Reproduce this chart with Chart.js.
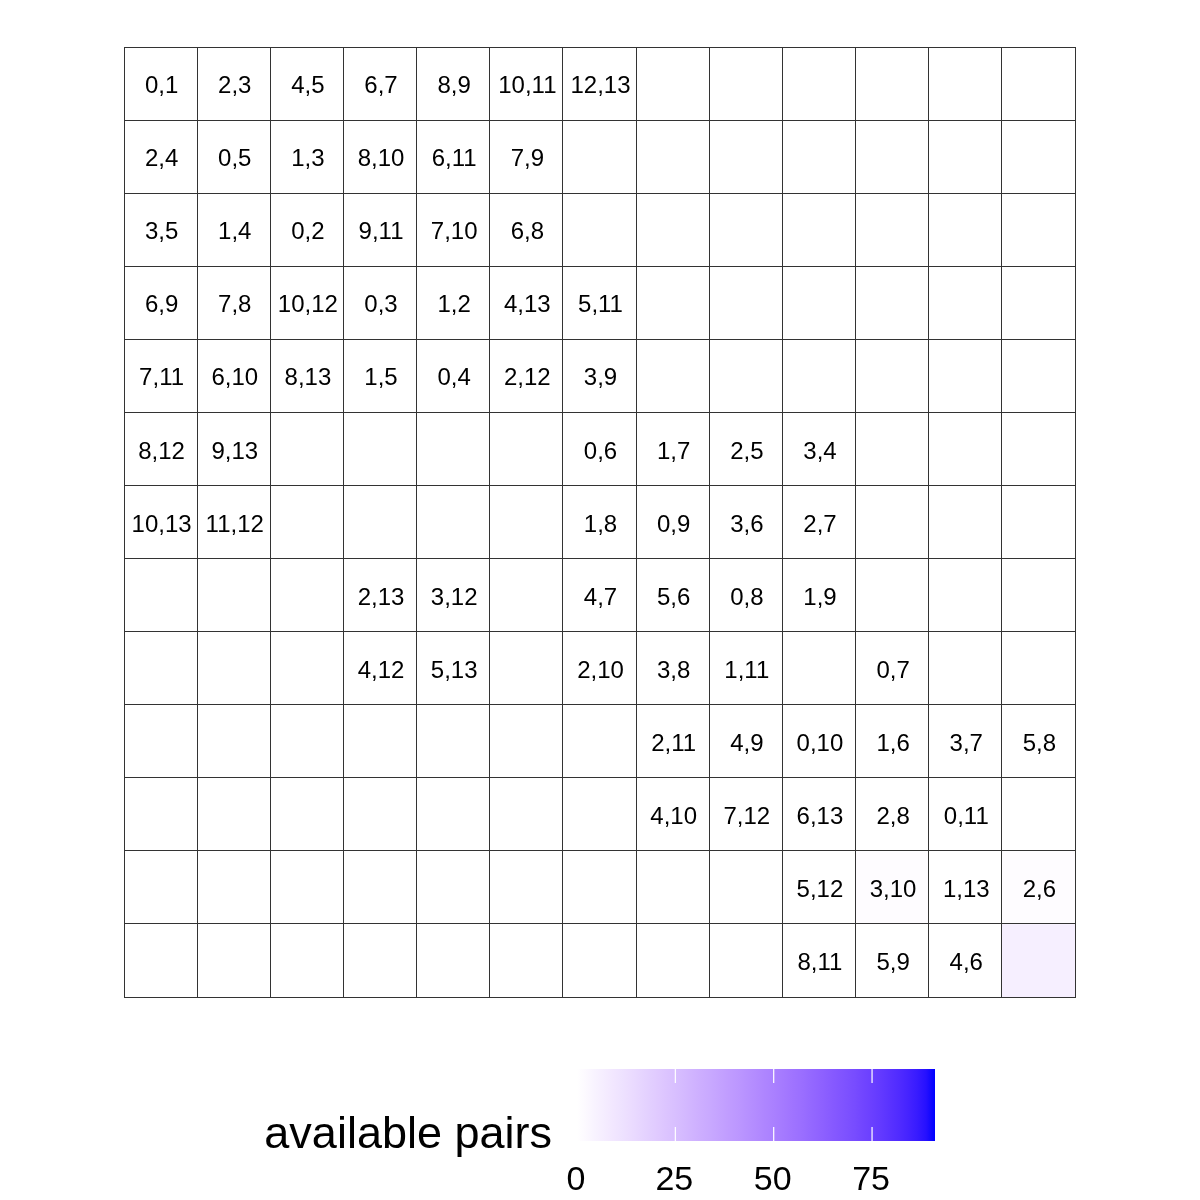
<!DOCTYPE html>
<html>
<head>
<meta charset="utf-8">
<script src="https://cdn.jsdelivr.net/npm/chart.js@4"></script>
<style>
html,body{margin:0;padding:0;background:#fff;}
#wrap{width:1200px;height:1200px;}
</style>
</head>
<body>
<div id="wrap"><canvas id="c" width="1200" height="1200"></canvas></div>
<script>
// ---- data ----
const columns = ['1','2','3','4','5','6','7','8','9','10','11','12','13'];
const rowLabels = [
  ['0,1','2,3','4,5','6,7','8,9','10,11','12,13','','','','','',''],
  ['2,4','0,5','1,3','8,10','6,11','7,9','','','','','','',''],
  ['3,5','1,4','0,2','9,11','7,10','6,8','','','','','','',''],
  ['6,9','7,8','10,12','0,3','1,2','4,13','5,11','','','','','',''],
  ['7,11','6,10','8,13','1,5','0,4','2,12','3,9','','','','','',''],
  ['8,12','9,13','','','','','0,6','1,7','2,5','3,4','','',''],
  ['10,13','11,12','','','','','1,8','0,9','3,6','2,7','','',''],
  ['','','','2,13','3,12','','4,7','5,6','0,8','1,9','','',''],
  ['','','','4,12','5,13','','2,10','3,8','1,11','','0,7','',''],
  ['','','','','','','','2,11','4,9','0,10','1,6','3,7','5,8'],
  ['','','','','','','','4,10','7,12','6,13','2,8','0,11',''],
  ['','','','','','','','','','5,12','3,10','1,13','2,6'],
  ['','','','','','','','','','8,11','5,9','4,6','']
];
const cellValues = [
  [0,0,0,0,0,0,0,0,0,0,0,0,0],
  [0,0,0,0,0,0,0,0,0,0,0,0,0],
  [0,0,0,0,0,0,0,0,0,0,0,0,0],
  [0,0,0,0,0,0,0,0,0,0,0,0,0],
  [0,0,0,0,0,0,0,0,0,0,0,0,0],
  [0,0,0,0,0,0,0,0,0,0,0,0,0],
  [0,0,0,0,0,0,0,0,0,0,0,0,0],
  [0,0,0,0,0,0,0,0,0,0,0,0,0],
  [0,0,0,0,0,0,0,0,0,0,0,0,0],
  [0,0,0,0,0,0,0,0,0,0,0,0,0],
  [0,0,0,0,0,0,0,0,0,0,0,0,0],
  [0,0,0,0,0,0,0,0,0,0,1,0,1],
  [0,0,0,0,0,0,0,0,0,0,0,0,6]
];
const legendTitle = 'available pairs';
const legendTicks = [0, 25, 50, 75];
const legendMin = 0;
const legendMax = 91;

// ---- colour scale (white -> blue, interpolated in CIELAB like ggplot) ----
const LAB_LOW = [100, 0, 0];
const LAB_HIGH = [32.297, 79.188, -107.86];
function lab2rgb(L, a, b) {
  const fy = (L + 16) / 116, fx = fy + a / 500, fz = fy - b / 200;
  const finv = t => (t * t * t > 0.008856 ? t * t * t : (t - 16 / 116) / 7.787);
  const X = 0.95047 * finv(fx), Y = 1.0 * finv(fy), Z = 1.08883 * finv(fz);
  let r = 3.2404542 * X - 1.5371385 * Y - 0.4985314 * Z;
  let g = -0.9692660 * X + 1.8760108 * Y + 0.0415560 * Z;
  let bb = 0.0556434 * X - 0.2040259 * Y + 1.0572252 * Z;
  const gam = c => { c = c <= 0.0031308 ? 12.92 * c : 1.055 * Math.pow(c, 1 / 2.4) - 0.055; return Math.round(Math.max(0, Math.min(1, c)) * 255); };
  return `rgb(${gam(r)},${gam(g)},${gam(bb)})`;
}
function colorFor(v) {
  const t = Math.max(0, Math.min(1, (v - legendMin) / (legendMax - legendMin)));
  return lab2rgb(
    LAB_LOW[0] + (LAB_HIGH[0] - LAB_LOW[0]) * t,
    LAB_LOW[1] + (LAB_HIGH[1] - LAB_LOW[1]) * t,
    LAB_LOW[2] + (LAB_HIGH[2] - LAB_LOW[2]) * t);
}

const FONT = '"Liberation Sans", Arial, Helvetica, sans-serif';

// ---- datasets: one per grid row, floating bars spanning [r, r+1] ----
const datasets = rowLabels.map((labels, r) => ({
  label: 'row ' + (r + 1),
  data: columns.map(() => [r, r + 1]),
  backgroundColor: cellValues[r].map(colorFor),
  borderWidth: 0,
  grouped: false,
  barPercentage: 1,
  categoryPercentage: 1,
  cellText: labels
}));

const cellTextPlugin = {
  id: 'cellText',
  afterDatasetsDraw(chart) {
    const ctx = chart.ctx;
    ctx.save();
    ctx.fillStyle = '#000';
    ctx.font = '24px ' + FONT;
    ctx.textAlign = 'center';
    ctx.textBaseline = 'middle';
    chart.data.datasets.forEach((ds, di) => {
      const meta = chart.getDatasetMeta(di);
      meta.data.forEach((el, i) => {
        const txt = ds.cellText[i];
        if (!txt) return;
        const cx = el.x, cy = (el.y + el.base) / 2;
        ctx.fillText(txt, cx + 1, cy + 3);
      });
    });
    ctx.restore();
  }
};

const legendPlugin = {
  id: 'colorbarLegend',
  afterDraw(chart) {
    const ctx = chart.ctx;
    const x0 = 577, x1 = 935, y0 = 1069, y1 = 1141;
    const span = x1 - x0;
    const grad = ctx.createLinearGradient(x0, 0, x1, 0);
    const N = 40;
    for (let i = 0; i <= N; i++) {
      const v = legendMin + (legendMax - legendMin) * i / N;
      grad.addColorStop(i / N, colorFor(v));
    }
    ctx.save();
    ctx.fillStyle = grad;
    ctx.fillRect(x0, y0, span, y1 - y0);
    // ticks
    ctx.strokeStyle = '#ffffff';
    ctx.lineWidth = 1.2;
    const tickLen = 14;
    ctx.font = '34px ' + FONT;
    ctx.textAlign = 'center';
    ctx.textBaseline = 'alphabetic';
    legendTicks.forEach(t => {
      const x = x0 + span * (t - legendMin) / (legendMax - legendMin);
      if (t > legendMin) {
        ctx.beginPath();
        ctx.moveTo(x, y0); ctx.lineTo(x, y0 + tickLen);
        ctx.moveTo(x, y1); ctx.lineTo(x, y1 - tickLen);
        ctx.stroke();
      }
      ctx.fillStyle = '#000';
      ctx.fillText(String(t), x - 1, 1190);
    });
    // title
    ctx.font = '45px ' + FONT;
    ctx.textAlign = 'right';
    ctx.fillStyle = '#000';
    ctx.fillText(legendTitle, 552, 1148);
    ctx.restore();
  }
};

new Chart(document.getElementById('c'), {
  type: 'bar',
  data: { labels: columns, datasets },
  options: {
    responsive: false,
    animation: false,
    events: [],
    layout: { padding: { left: 124, right: 125, top: 47, bottom: 203 } },
    plugins: { legend: { display: false }, tooltip: { enabled: false }, title: { display: false } },
    scales: {
      x: {
        type: 'category',
        offset: true,
        ticks: { display: false },
        grid: { display: true, offset: true, color: '#333333', lineWidth: 1, drawTicks: false, z: 1 },
        border: { display: true, color: '#333333', width: 1, z: 1 }
      },
      y: {
        type: 'linear',
        min: 0, max: 13,
        reverse: true,
        ticks: { display: false, stepSize: 1 },
        grid: { display: true, color: '#333333', lineWidth: 1, drawTicks: false, z: 1 },
        border: { display: true, color: '#333333', width: 1, z: 1 }
      }
    }
  },
  plugins: [cellTextPlugin, legendPlugin]
});
</script>
</body>
</html>
